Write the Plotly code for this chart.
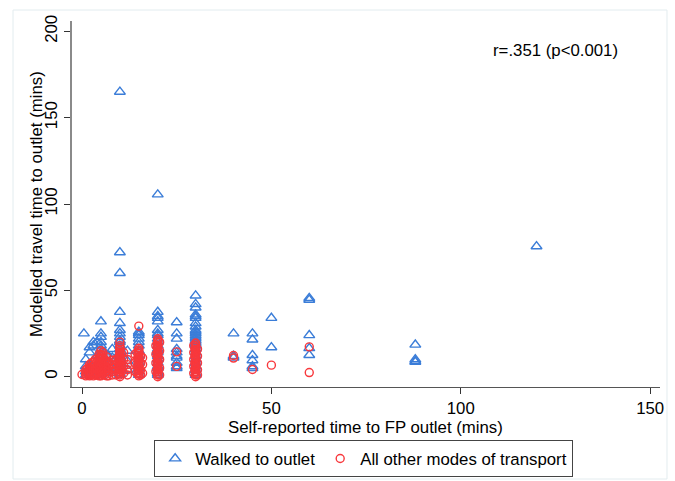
import plotly.graph_objects as go

# ---------------- data ----------------
x_ticks = [0, 50, 100, 150]
y_ticks = [0, 50, 100, 150, 200]

# "Walked to outlet" (blue triangles)
walked_x = [
    10, 20, 10, 10, 120, 10, 10,                      # outliers
    0.5,
    1, 1, 1, 1, 2, 2, 2, 2, 3, 3, 3, 3, 4, 4, 4, 4,
    5, 5, 5, 5, 5, 5, 5, 5, 5, 5, 5, 5, 5, 5,
    6, 6, 6, 7, 7, 7, 8, 8, 8, 8,
    10, 10, 10, 10, 10, 10, 10, 10, 10, 10, 10, 10, 10, 10, 10,
    12, 12, 12,
    15, 15, 15, 15, 15, 15, 15, 15, 15, 15, 15, 15, 15,
    20, 20, 20, 20, 20, 20, 20, 20, 20, 20, 20, 20, 20, 20, 20, 20, 20, 20, 20, 20, 20,
    25, 25, 25, 25, 25, 25, 25, 25, 25, 25,
    30, 30, 30, 30, 30, 30, 30, 30, 30, 30, 30, 30, 30, 30, 30, 30, 30, 30, 30, 30,
    30, 30, 30, 30, 30, 30, 30,
    40, 40, 40,
    45, 45, 45, 45, 45, 45,
    50, 50,
    60, 60, 60, 60, 60,
    88, 88, 88, 88,
]
walked_y = [
    165, 105.5, 72, 60, 75.5, 37.5, 31,
    25,
    1, 3, 6, 10, 2, 5, 14, 17, 4, 9, 18, 20, 1, 7, 12, 20,
    32, 25, 23, 20, 18, 16, 14, 12, 10, 8, 6, 4, 2, 1,
    14, 10, 5, 12, 8, 3, 16, 11, 6, 2,
    27, 25, 23, 21, 20, 18, 16, 14, 12, 10, 8, 6, 4, 2, 1,
    15, 9, 4,
    26, 25, 24, 22, 20, 18, 15, 12, 10, 8, 5, 3, 1,
    37.5, 35, 34, 32, 27, 25, 24, 22, 20, 18, 16, 15, 14, 12, 10, 8, 6, 5, 3, 2, 1,
    31.5, 25, 22, 16, 14, 12, 11, 8, 6, 5,
    47, 42, 40, 36, 35, 34, 31, 29, 27, 26, 25, 24, 23, 22, 21, 20, 19, 18, 16, 14,
    12, 10, 8, 6, 4, 2, 1,
    25, 12, 11,
    25, 21.5, 12.5, 9.5, 6, 5,
    34, 17,
    45.5, 44.5, 24, 16.5, 12.5,
    18.5, 10, 9, 8.5,
]

# "All other modes of transport" (red circles)
other_x = [
    0,
    1, 1, 1, 1, 1.5, 1.5, 1.5,
    2, 2, 2, 2, 2, 2,
    2.5, 2.5, 2.5, 2.5,
    3, 3, 3, 3, 3, 3,
    3.5, 3.5, 3.5, 3.5, 3.5,
    4, 4, 4, 4, 4, 4,
    4.5, 4.5, 4.5, 4.5, 4.5, 4.5,
    5, 5, 5, 5, 5, 5, 5, 5, 5, 5, 5, 5, 5, 5, 5,
    5.5, 5.5, 5.5, 5.5, 5.5, 5.5,
    6, 6, 6, 6, 6, 6,
    6.5, 6.5, 6.5, 6.5, 6.5,
    7, 7, 7, 7, 7, 7,
    8, 8, 8, 8, 8,
    10, 10, 10, 10, 10, 10, 10, 10, 10, 10, 10, 10, 10, 10, 10, 10, 10, 10, 10, 10,
    9.5, 9.5, 9.5, 9.5, 10.5, 10.5, 10.5, 10.5,
    9, 9, 9, 9, 11, 11, 11, 11,
    12, 12, 12, 12,
    15, 15, 15, 15, 15, 15, 15, 15, 15, 15, 15, 15, 15, 15, 15, 15, 15, 15,
    14.5, 14.5, 14.5, 14.5, 15.5, 15.5, 15.5, 15.5,
    14, 14, 14, 16, 16, 16,
    20, 20, 20, 20, 20, 20, 20, 20, 20, 20, 20, 20, 20, 20, 20, 20, 20, 20, 20, 20,
    20, 20, 20,
    19.5, 19.5, 19.5, 19.5, 20.5, 20.5, 20.5, 20.5, 20.5,
    25, 25,
    30, 30, 30, 30, 30, 30, 30, 30, 30, 30, 30, 30, 30, 30, 30, 30, 30, 30, 30, 30, 30,
    29.5, 29.5, 29.5, 29.5, 29.5, 30.5, 30.5, 30.5, 30.5, 30.5,
    40, 40,
    45,
    50,
    60, 60,
]
other_y = [
    1.3,
    0.5, 1.5, 2.5, 4, 1, 3, 5,
    0.5, 1, 2, 3, 5, 7,
    1.5, 4, 6, 8,
    0.5, 1.5, 3, 4.5, 6, 8.5,
    1, 2.5, 5, 7.5, 10,
    1, 2, 3.5, 5, 7, 9,
    0.5, 3, 6, 8, 11, 13,
    0.5, 1, 2, 3, 4, 5, 6, 7, 8, 9, 10, 11, 12, 13, 15,
    1.5, 4.5, 7.5, 10.5, 12.5, 14,
    1, 2.5, 4, 6, 8, 10,
    0.5, 3, 5.5, 9, 11.5,
    0.5, 2, 3.5, 5, 7, 8.5,
    1, 3, 5, 7, 9.5,
    0, 1, 2, 3, 4, 5, 6, 7, 8, 9, 10, 11, 12, 13, 14, 15, 16, 17, 18, 20,
    2, 5, 8, 11, 3, 6, 9, 13,
    1, 4, 7, 10, 2, 6, 10, 14,
    1, 4, 7, 10,
    0.5, 1.5, 2.5, 3.5, 4.5, 5.5, 6.5, 7.5, 8.5, 9.5, 10.5, 11.5, 12.5, 13.5, 14.5, 15.5,
    16.5, 29.3,
    2, 6, 10, 14, 1, 4, 8, 12,
    3, 8, 13, 2, 7, 11,
    0, 1, 2, 3, 4, 5, 6, 7, 8, 9, 10, 11, 12, 13, 14, 15, 16, 17, 18, 19,
    20, 21, 22,
    3, 8, 13, 18, 1, 5, 10, 15, 20,
    14.4, 6,
    0, 1, 2, 3, 4, 5, 6, 7, 8, 9, 10, 11, 12, 13, 14, 15, 16, 17, 18, 19, 19.5,
    2, 6, 10, 14, 18, 1, 4, 8, 12, 16,
    12.3, 10.8,
    4.2,
    6.7,
    17.3, 2.4,
]

annotation_text = "r=.351 (p<0.001)"
x_title = "Self-reported time to FP outlet (mins)"
y_title = "Modelled travel time to outlet (mins)"

# ---------------- figure ----------------
FONT = "Liberation Sans, Arial, sans-serif"
FS = 16.8
BLUE = "#3b7dd8"
RED = "#f8383c"
Y_RANGE = [-5.96, 206]

fig = go.Figure()
fig.add_trace(go.Scatter(
    x=walked_x, y=walked_y, mode="markers", name="Walked to outlet",
    marker=dict(symbol="triangle-up-open", size=9.5, color=BLUE,
                line=dict(width=1.4, color=BLUE)),
))
fig.add_trace(go.Scatter(
    x=other_x, y=other_y, mode="markers", name="All other modes of transport",
    marker=dict(symbol="circle-open", size=8, color=RED,
                line=dict(width=1.4, color=RED)),
))

base = dict(showgrid=False, zeroline=False, automargin=False)
tfont = dict(family=FONT, size=FS, color="#000000")

fig.update_layout(
    template="none",
    width=675, height=481,
    margin=dict(l=72, r=15, t=21, b=94, autoexpand=False),
    paper_bgcolor="white", plot_bgcolor="white",
    font=dict(family=FONT, size=FS, color="#000000"),
    xaxis=dict(range=[-2.64, 152.6], tickvals=x_ticks, showline=True,
               linecolor="#555555", linewidth=1.2,
               ticks="outside", ticklen=6, tickwidth=1.2, tickcolor="#333333",
               tickfont=tfont, **base),
    yaxis=dict(range=Y_RANGE, tickvals=y_ticks, tickangle=-90, showline=True,
               linecolor="#8a8a8a", linewidth=2,
               ticks="outside", ticklen=6, tickwidth=1.2, tickcolor="#333333",
               tickfont=tfont, **base),
    showlegend=True,
    legend=dict(orientation="h", x=0.496, xanchor="center", y=-0.145, yanchor="top",
                bordercolor="#444444", borderwidth=1,
                font=dict(family=FONT, size=FS, color="#000000")),
    annotations=[
        dict(text=annotation_text, x=125, y=188.7, xref="x", yref="y",
             showarrow=False, xanchor="center", yanchor="middle",
             font=dict(family=FONT, size=FS, color="#000000")),
        dict(text=x_title, x=0.499, y=-0.1093, xref="paper", yref="paper",
             showarrow=False, xanchor="center", yanchor="middle",
             font=dict(family=FONT, size=FS, color="#000000")),
        dict(text=y_title, x=-0.0612, y=0.5, xref="paper", yref="paper",
             showarrow=False, xanchor="center", yanchor="middle", textangle=-90,
             font=dict(family=FONT, size=FS, color="#000000")),
    ],
    shapes=[
        dict(type="rect", xref="paper", yref="paper",
             x0=-0.1003, x1=1.0119, y0=-0.2514, y1=1.030,
             line=dict(color="#e3ecef", width=1), fillcolor="rgba(0,0,0,0)",
             layer="below"),
    ],
)

fig.write_html("out.html", config={"displayModeBar": False},
               post_script="document.body.style.margin='0';")
